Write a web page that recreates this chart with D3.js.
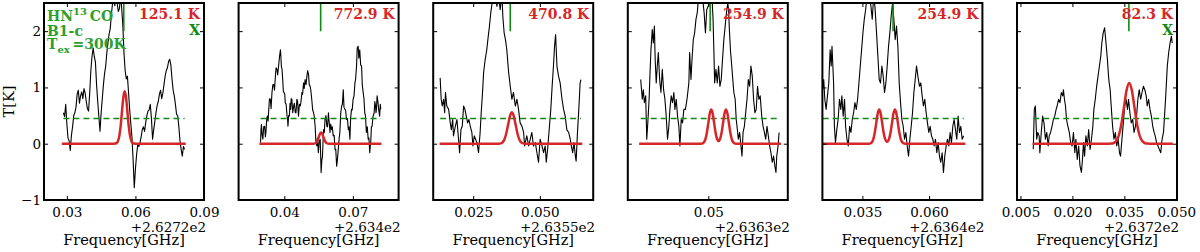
<!DOCTYPE html>
<html><head><meta charset="utf-8">
<script src="https://cdn.jsdelivr.net/npm/d3@7"></script>
<style>body{margin:0;background:#fff}svg{display:block}</style>
</head><body><svg id="c" width="1200" height="252"></svg>
<script>
// ---------------- data ----------------
const offsetLabels = ["+2.6272e2","+2.634e2","+2.6355e2","+2.6363e2","+2.6364e2","+2.6372e2"];
const xDomains = [[0.02,0.09],[0.02,0.09],[0.01,0.07],[0.0194,0.0802],[0.02,0.08],[0.004,0.0502]];
const xTicks = [[0.03,0.06,0.09],[0.04,0.07],[0.025,0.05],[0.05],[0.035,0.06],[0.005,0.02,0.035,0.05]];
const xTickLabels = [["0.03","0.06","0.09"],["0.04","0.07"],["0.025","0.050"],["0.05"],["0.035","0.060"],["0.005","0.020","0.035","0.050"]];
const yDomain = [-1,2.5];
const yTicks = [-1,0,1,2];
const yTickLabels = ["\u22121","0","1","2"];
const tempLabels = ["125.1 K","772.9 K","470.8 K","254.9 K","254.9 K","82.3 K"];
const flagLabels = ["X","","","","","X"];
const markerFreq = [0.0549,0.0559,0.0389,0.0507,0.0465,0.0363];
const markerRange = [2.0,2.5];
const threshold = 0.45;

const spec1 = [[0.0285,0.55],[0.0290,0.48],[0.0295,0.70],[0.0300,0.35],[0.0305,0.10],[0.0310,0.05],[0.0315,-0.12],[0.0320,0.15],[0.0325,0.30],[0.0330,0.50],[0.0335,0.55],[0.0340,0.65],[0.0345,0.88],[0.0350,0.95],[0.0355,0.72],[0.0360,0.85],[0.0365,0.92],[0.0370,0.80],[0.0375,0.98],[0.0380,0.90],[0.0385,0.75],[0.0390,0.62],[0.0395,0.58],[0.0400,0.90],[0.0405,1.30],[0.0410,1.55],[0.0415,1.70],[0.0420,1.55],[0.0425,1.45],[0.0430,1.05],[0.0435,0.75],[0.0440,0.48],[0.0445,0.22],[0.0450,0.55],[0.0455,0.80],[0.0460,1.05],[0.0465,1.25],[0.0470,1.38],[0.0475,1.62],[0.0480,1.80],[0.0485,1.95],[0.0490,2.05],[0.0495,2.30],[0.0500,2.50],[0.0505,2.60],[0.0510,2.45],[0.0515,2.70],[0.0520,2.50],[0.0525,2.35],[0.0530,2.40],[0.0535,2.65],[0.0540,2.40],[0.0545,2.10],[0.0550,1.60],[0.0555,1.30],[0.0560,1.15],[0.0565,1.20],[0.0570,0.90],[0.0575,0.60],[0.0580,0.35],[0.0585,0.10],[0.0590,-0.30],[0.0595,-0.78],[0.0600,-0.45],[0.0605,-0.20],[0.0610,-0.02],[0.0615,-0.05],[0.0620,0.02],[0.0625,0.12],[0.0630,0.25],[0.0635,0.30],[0.0640,0.22],[0.0645,0.38],[0.0650,0.50],[0.0655,0.58],[0.0660,0.60],[0.0665,0.70],[0.0670,0.45],[0.0675,0.08],[0.0680,0.25],[0.0685,0.40],[0.0690,0.55],[0.0695,0.68],[0.0700,0.75],[0.0705,0.88],[0.0710,0.95],[0.0715,0.80],[0.0720,0.90],[0.0725,1.05],[0.0730,1.20],[0.0735,1.30],[0.0740,1.35],[0.0745,1.46],[0.0750,1.50],[0.0755,1.40],[0.0760,1.15],[0.0765,0.95],[0.0770,0.85],[0.0775,0.70],[0.0780,0.52],[0.0785,0.50],[0.0790,0.30],[0.0795,0.05],[0.0800,-0.10],[0.0805,-0.22],[0.0810,-0.05],[0.0815,-0.10]];

const spec2 = [[0.0296,0.02],[0.0298,0.25],[0.0300,0.34],[0.0303,0.15],[0.0306,0.08],[0.0310,0.30],[0.0314,0.31],[0.0317,0.12],[0.0320,0.22],[0.0323,0.45],[0.0326,0.49],[0.0329,0.40],[0.0332,0.61],[0.0335,0.80],[0.0339,0.79],[0.0342,0.62],[0.0346,0.91],[0.0350,1.05],[0.0354,1.05],[0.0357,0.95],[0.0361,1.20],[0.0364,1.35],[0.0368,1.32],[0.0371,1.22],[0.0375,1.38],[0.0379,1.55],[0.0383,1.67],[0.0385,1.55],[0.0387,1.38],[0.0390,1.32],[0.0393,1.14],[0.0396,0.92],[0.0399,0.91],[0.0402,0.88],[0.0404,0.73],[0.0408,0.70],[0.0412,0.49],[0.0414,0.45],[0.0416,0.31],[0.0419,0.50],[0.0422,0.49],[0.0425,0.72],[0.0428,0.61],[0.0430,0.80],[0.0433,0.79],[0.0437,0.55],[0.0441,0.67],[0.0444,0.72],[0.0448,0.55],[0.0451,0.55],[0.0455,0.79],[0.0458,0.75],[0.0462,0.49],[0.0466,0.70],[0.0470,0.67],[0.0473,0.75],[0.0477,0.91],[0.0480,0.88],[0.0484,1.08],[0.0487,0.98],[0.0491,1.14],[0.0495,1.05],[0.0499,1.20],[0.0502,1.30],[0.0506,1.23],[0.0509,1.05],[0.0513,1.02],[0.0516,0.95],[0.0520,0.79],[0.0524,0.60],[0.0528,0.55],[0.0531,0.48],[0.0535,0.31],[0.0538,0.05],[0.0542,-0.04],[0.0545,0.10],[0.0549,-0.16],[0.0553,0.05],[0.0557,0.08],[0.0559,-0.20],[0.0561,-0.51],[0.0564,-0.30],[0.0567,-0.22],[0.0570,0.10],[0.0572,0.25],[0.0575,0.20],[0.0578,0.43],[0.0582,0.50],[0.0586,0.31],[0.0589,0.30],[0.0593,0.55],[0.0596,0.40],[0.0600,0.20],[0.0603,0.35],[0.0607,0.25],[0.0610,0.30],[0.0614,0.14],[0.0618,0.15],[0.0622,-0.10],[0.0625,-0.10],[0.0629,-0.40],[0.0632,-0.30],[0.0636,-0.10],[0.0640,0.10],[0.0643,0.20],[0.0647,0.55],[0.0651,0.67],[0.0654,0.70],[0.0658,0.96],[0.0661,0.65],[0.0665,0.61],[0.0668,0.60],[0.0672,0.43],[0.0676,0.45],[0.0680,0.25],[0.0683,0.30],[0.0687,0.08],[0.0690,0.45],[0.0694,0.61],[0.0697,0.60],[0.0701,0.79],[0.0705,0.85],[0.0709,1.08],[0.0712,1.15],[0.0716,1.38],[0.0719,1.70],[0.0723,1.73],[0.0726,1.52],[0.0730,1.67],[0.0734,1.40],[0.0738,1.38],[0.0741,1.05],[0.0745,0.91],[0.0748,0.82],[0.0752,0.55],[0.0755,0.50],[0.0759,0.20],[0.0763,0.30],[0.0767,0.08],[0.0770,0.10],[0.0774,-0.16],[0.0776,-0.05],[0.0778,0.02],[0.0781,0.30],[0.0784,0.31],[0.0788,0.48],[0.0793,0.55],[0.0796,0.75],[0.0799,0.67],[0.0801,0.55],[0.0803,0.61],[0.0806,0.85],[0.0810,0.73],[0.0813,0.60],[0.0817,0.49],[0.0820,0.70],[0.0822,0.61]];

const spec3 = [[0.0126,1.17],[0.0130,0.79],[0.0134,0.67],[0.0139,0.79],[0.0143,0.55],[0.0146,0.91],[0.0151,0.67],[0.0158,0.61],[0.0164,0.37],[0.0168,0.25],[0.0173,0.43],[0.0176,0.14],[0.0183,0.31],[0.0189,0.43],[0.0195,0.08],[0.0199,-0.16],[0.0204,0.25],[0.0209,0.31],[0.0214,0.67],[0.0219,0.61],[0.0224,0.49],[0.0229,0.37],[0.0234,0.43],[0.0239,0.31],[0.0245,0.20],[0.0249,-0.04],[0.0254,0.14],[0.0259,0.08],[0.0264,0.02],[0.0270,-0.16],[0.0276,0.20],[0.0280,0.55],[0.0285,0.91],[0.0289,1.26],[0.0295,1.50],[0.0301,1.67],[0.0305,1.85],[0.0311,2.09],[0.0316,2.33],[0.0321,2.50],[0.0326,2.60],[0.0333,2.65],[0.0339,2.44],[0.0345,2.65],[0.0351,2.38],[0.0358,2.65],[0.0361,2.27],[0.0366,1.97],[0.0371,1.85],[0.0376,1.67],[0.0383,1.26],[0.0389,1.02],[0.0395,0.79],[0.0401,0.91],[0.0408,0.67],[0.0414,0.79],[0.0420,0.61],[0.0426,0.37],[0.0433,0.31],[0.0439,0.20],[0.0443,-0.04],[0.0448,0.08],[0.0451,0.14],[0.0458,-0.04],[0.0464,0.08],[0.0470,0.20],[0.0476,-0.04],[0.0483,0.02],[0.0489,-0.16],[0.0495,-0.33],[0.0501,0.08],[0.0508,-0.04],[0.0514,-0.16],[0.0520,-0.04],[0.0524,-0.33],[0.0529,-0.10],[0.0536,0.31],[0.0541,0.61],[0.0546,1.02],[0.0551,1.38],[0.0555,1.73],[0.0559,1.94],[0.0564,1.38],[0.0570,1.20],[0.0576,1.08],[0.0583,0.79],[0.0589,0.61],[0.0595,0.49],[0.0601,0.25],[0.0608,0.20],[0.0614,0.08],[0.0618,-0.04],[0.0623,-0.16],[0.0628,0.02],[0.0633,-0.22],[0.0636,-0.31],[0.0641,0.20],[0.0646,0.61],[0.0651,1.08],[0.0654,1.14]];

const spec4 = [[0.0243,1.14],[0.0247,0.91],[0.0249,0.79],[0.0253,0.96],[0.0257,0.73],[0.0262,0.85],[0.0266,0.08],[0.0270,0.37],[0.0275,0.79],[0.0278,1.20],[0.0282,1.67],[0.0287,2.03],[0.0291,1.79],[0.0295,2.09],[0.0298,1.50],[0.0302,1.08],[0.0306,1.38],[0.0310,1.62],[0.0315,1.14],[0.0320,0.91],[0.0325,1.32],[0.0330,0.96],[0.0335,0.79],[0.0340,0.49],[0.0345,0.08],[0.0350,0.31],[0.0354,0.61],[0.0359,0.85],[0.0364,0.73],[0.0369,0.91],[0.0373,0.61],[0.0378,0.79],[0.0383,0.49],[0.0388,0.31],[0.0392,-0.04],[0.0397,0.43],[0.0402,0.37],[0.0407,0.61],[0.0413,0.61],[0.0419,0.79],[0.0426,1.08],[0.0429,1.62],[0.0434,1.14],[0.0438,1.50],[0.0443,1.85],[0.0448,1.97],[0.0453,2.21],[0.0458,2.33],[0.0463,2.60],[0.0468,2.65],[0.0473,2.50],[0.0478,2.60],[0.0484,2.33],[0.0489,1.97],[0.0494,2.38],[0.0499,2.44],[0.0504,2.50],[0.0509,2.60],[0.0514,2.60],[0.0518,2.21],[0.0521,1.67],[0.0524,1.08],[0.0529,1.32],[0.0534,1.08],[0.0539,1.38],[0.0544,1.02],[0.0549,1.14],[0.0554,1.50],[0.0559,1.85],[0.0564,2.09],[0.0569,2.33],[0.0574,2.50],[0.0577,2.38],[0.0580,2.03],[0.0584,1.67],[0.0589,1.38],[0.0593,1.14],[0.0597,0.91],[0.0602,0.79],[0.0606,0.43],[0.0609,0.31],[0.0614,0.08],[0.0619,0.20],[0.0624,-0.04],[0.0628,-0.22],[0.0632,0.20],[0.0637,0.31],[0.0642,0.55],[0.0647,0.79],[0.0652,1.14],[0.0657,1.02],[0.0662,1.38],[0.0667,1.20],[0.0672,0.79],[0.0677,0.55],[0.0682,0.61],[0.0687,1.02],[0.0692,0.79],[0.0697,0.85],[0.0703,0.49],[0.0708,0.31],[0.0713,0.20],[0.0718,0.08],[0.0723,0.31],[0.0728,0.14],[0.0733,-0.04],[0.0738,-0.16],[0.0743,-0.33],[0.0748,-0.22],[0.0753,-0.40],[0.0757,-0.51],[0.0760,-0.22],[0.0765,-0.04],[0.0769,0.20]];

const spec5 = [[0.0201,0.96],[0.0205,1.14],[0.0209,0.79],[0.0214,0.61],[0.0219,0.85],[0.0224,1.08],[0.0229,1.67],[0.0233,1.38],[0.0236,1.73],[0.0242,1.08],[0.0245,0.31],[0.0249,0.02],[0.0254,0.25],[0.0259,0.43],[0.0264,0.79],[0.0269,0.61],[0.0273,0.85],[0.0278,0.49],[0.0283,0.79],[0.0287,0.31],[0.0292,0.08],[0.0297,-0.04],[0.0302,0.31],[0.0307,0.20],[0.0312,0.43],[0.0317,0.55],[0.0322,0.73],[0.0327,0.61],[0.0332,0.79],[0.0337,1.08],[0.0342,1.38],[0.0347,1.67],[0.0352,1.97],[0.0357,2.21],[0.0362,2.38],[0.0367,2.60],[0.0372,2.50],[0.0377,2.60],[0.0382,2.44],[0.0387,2.21],[0.0392,2.60],[0.0397,2.44],[0.0403,1.97],[0.0408,1.56],[0.0413,1.14],[0.0418,1.08],[0.0423,1.38],[0.0428,1.20],[0.0433,0.91],[0.0438,1.08],[0.0443,1.38],[0.0448,1.73],[0.0453,1.97],[0.0458,2.27],[0.0463,2.50],[0.0468,2.21],[0.0473,1.85],[0.0478,2.09],[0.0483,1.73],[0.0488,1.08],[0.0493,0.73],[0.0498,0.43],[0.0503,0.31],[0.0508,0.08],[0.0513,0.20],[0.0518,-0.04],[0.0523,-0.22],[0.0528,0.08],[0.0533,0.31],[0.0538,0.55],[0.0543,0.91],[0.0548,1.14],[0.0553,1.38],[0.0558,1.20],[0.0564,1.02],[0.0569,1.08],[0.0574,0.85],[0.0579,0.67],[0.0584,0.79],[0.0589,0.55],[0.0594,0.37],[0.0599,0.20],[0.0604,0.31],[0.0609,0.14],[0.0614,0.08],[0.0619,-0.04],[0.0624,0.08],[0.0629,-0.16],[0.0634,0.02],[0.0639,-0.22],[0.0644,-0.33],[0.0649,-0.16],[0.0654,-0.51],[0.0659,-0.22],[0.0664,-0.04],[0.0669,0.08],[0.0674,-0.04],[0.0679,0.20],[0.0684,0.02],[0.0689,0.31],[0.0694,0.43],[0.0699,0.25],[0.0704,0.08],[0.0709,0.49],[0.0714,0.20],[0.0719,0.31],[0.0724,0.08],[0.0730,0.14]];

const spec6 = [[0.0087,-0.10],[0.0090,0.61],[0.0093,0.67],[0.0097,0.08],[0.0100,0.20],[0.0104,0.14],[0.0106,-0.16],[0.0110,0.20],[0.0114,0.49],[0.0118,0.37],[0.0122,0.08],[0.0126,0.20],[0.0130,-0.04],[0.0133,0.14],[0.0137,0.20],[0.0141,0.31],[0.0145,0.43],[0.0149,0.49],[0.0153,0.61],[0.0156,0.67],[0.0160,0.79],[0.0164,0.73],[0.0168,0.91],[0.0172,0.85],[0.0174,0.96],[0.0177,0.79],[0.0180,0.67],[0.0183,0.43],[0.0187,0.31],[0.0191,0.20],[0.0195,0.02],[0.0199,-0.04],[0.0203,0.20],[0.0207,-0.16],[0.0210,0.08],[0.0214,-0.28],[0.0218,-0.04],[0.0222,-0.40],[0.0226,-0.51],[0.0229,-0.28],[0.0232,0.02],[0.0235,-0.22],[0.0239,0.14],[0.0243,-0.04],[0.0247,0.25],[0.0251,-0.10],[0.0255,0.08],[0.0259,0.31],[0.0262,0.61],[0.0266,0.79],[0.0270,1.02],[0.0274,1.20],[0.0278,1.38],[0.0282,1.56],[0.0285,1.79],[0.0289,1.97],[0.0293,2.06],[0.0297,1.79],[0.0301,1.50],[0.0305,1.14],[0.0309,0.96],[0.0312,0.67],[0.0316,0.31],[0.0320,0.08],[0.0324,0.20],[0.0328,-0.04],[0.0332,0.08],[0.0336,-0.16],[0.0339,-0.22],[0.0343,0.08],[0.0347,0.37],[0.0351,0.67],[0.0355,0.79],[0.0359,0.61],[0.0362,0.79],[0.0366,0.55],[0.0370,0.37],[0.0374,0.43],[0.0378,0.20],[0.0382,0.31],[0.0386,0.55],[0.0389,0.79],[0.0393,0.96],[0.0397,0.79],[0.0401,0.91],[0.0405,1.02],[0.0409,0.96],[0.0413,0.85],[0.0416,0.67],[0.0420,0.79],[0.0424,0.61],[0.0428,0.49],[0.0432,0.31],[0.0436,0.20],[0.0439,0.14],[0.0443,0.02],[0.0447,-0.04],[0.0451,-0.10],[0.0455,-0.16],[0.0459,0.08],[0.0463,0.20],[0.0466,0.49],[0.0470,0.91],[0.0474,1.38],[0.0478,1.62],[0.0482,1.79],[0.0486,1.91],[0.0488,1.79]];

const fit1 = [[0.0278,0],[0.0505,0],[0.0511,0.002],[0.0517,0.010],[0.0523,0.041],[0.0529,0.126],[0.0535,0.302],[0.0541,0.564],[0.0547,0.821],[0.0553,0.93],[0.0559,0.821],[0.0565,0.564],[0.0571,0.302],[0.0577,0.126],[0.0583,0.041],[0.0589,0.010],[0.0595,0.002],[0.0601,0],[0.0820,0]];
const fit2 = [[0.0291,0],[0.0526,0],[0.0531,0.002],[0.0536,0.009],[0.0541,0.027],[0.0546,0.065],[0.0551,0.121],[0.0556,0.177],[0.0561,0.2],[0.0566,0.177],[0.0571,0.121],[0.0576,0.065],[0.0581,0.027],[0.0586,0.009],[0.0591,0.002],[0.0596,0],[0.0825,0]];
const fit3 = [[0.0124,0],[0.0339,0],[0.0346,0.001],[0.0353,0.006],[0.0360,0.025],[0.0367,0.076],[0.0374,0.182],[0.0381,0.34],[0.0388,0.494],[0.0395,0.56],[0.0402,0.494],[0.0409,0.34],[0.0416,0.182],[0.0423,0.076],[0.0430,0.025],[0.0437,0.006],[0.0444,0.001],[0.0451,0],[0.0659,0]];
const fit4 = [[0.0237,0],[0.0467,0],[0.04725,0.001],[0.0478,0.007],[0.04835,0.027],[0.0489,0.083],[0.04945,0.198],[0.0500,0.37],[0.05055,0.538],[0.0511,0.61],[0.05165,0.538],[0.0522,0.37],[0.05275,0.199],[0.0533,0.088],[0.0539,0.048],[0.0545,0.088],[0.05505,0.199],[0.0556,0.37],[0.05615,0.538],[0.0567,0.61],[0.05725,0.538],[0.0578,0.37],[0.05835,0.198],[0.0589,0.083],[0.05945,0.027],[0.0600,0.007],[0.06055,0.001],[0.0611,0],[0.0776,0]];
const fit5 = [[0.0200,0],[0.0369,0],[0.03745,0.001],[0.0380,0.007],[0.03855,0.027],[0.0391,0.083],[0.03965,0.198],[0.0402,0.37],[0.04075,0.538],[0.0413,0.61],[0.04185,0.538],[0.0424,0.37],[0.04295,0.198],[0.0435,0.085],[0.04425,0.034],[0.0450,0.085],[0.04555,0.198],[0.0461,0.37],[0.04665,0.538],[0.0472,0.61],[0.04775,0.538],[0.0483,0.37],[0.04885,0.198],[0.0494,0.083],[0.04995,0.027],[0.0505,0.007],[0.05105,0.001],[0.0516,0],[0.0736,0]];
const fit6 = [[0.0085,0],[0.03055,0],[0.03115,0.002],[0.0319,0.012],[0.03265,0.047],[0.0334,0.146],[0.03415,0.351],[0.0349,0.655],[0.03565,0.953],[0.0364,1.08],[0.03715,0.953],[0.0379,0.655],[0.03865,0.351],[0.0394,0.146],[0.04015,0.047],[0.0409,0.012],[0.04165,0.002],[0.0424,0],[0.0490,0]];

const spectra = [spec1,spec2,spec3,spec4,spec5,spec6];
const fits = [fit1,fit2,fit3,fit4,fit5,fit6];

// ---------------- drawing ----------------
const FONT = "DejaVu Serif";
const RED = "#d62728", GREEN = "#108a10", LGREEN = "#2ca02c";
const svg = d3.select("#c");
const yTop = 3, yBot = 200, pw = 160;
const y = d3.scaleLinear().domain(yDomain).range([yBot, yTop]);
const defs = svg.append("defs");

spectra.forEach((spec, i) => {
  const L = 44 + i * 194.6, R = L + pw;
  const x = d3.scaleLinear().domain(xDomains[i]).range([L, R]);
  const g = svg.append("g");
  defs.append("clipPath").attr("id", "clip" + i)
    .append("rect").attr("x", L).attr("y", yTop).attr("width", pw).attr("height", yBot - yTop);
  const plot = g.append("g").attr("clip-path", `url(#clip${i})`);
  const line = d3.line().x(d => x(d[0])).y(d => y(d[1]));

  plot.append("path").attr("d", line(spec)).attr("fill", "none")
    .attr("stroke", "#000").attr("stroke-width", 1.1).attr("stroke-linejoin", "round");

  const ext = d3.extent(spec, d => d[0]);
  plot.append("path").attr("d", line([[ext[0], threshold], [ext[1], threshold]]))
    .attr("fill", "none").attr("stroke", GREEN).attr("stroke-width", 1.5).attr("stroke-dasharray", "6,4");

  const fitLine = d3.line().curve(d3.curveMonotoneX).x(d => x(d[0])).y(d => y(d[1]));
  plot.append("path").attr("d", fitLine(fits[i])).attr("fill", "none")
    .attr("stroke", RED).attr("stroke-width", 2.5);

  plot.append("line").attr("x1", x(markerFreq[i])).attr("x2", x(markerFreq[i]))
    .attr("y1", y(markerRange[1])).attr("y2", y(markerRange[0]))
    .attr("stroke", GREEN).attr("stroke-width", 1.6);

  const ax = [];
  ax.push(g.append("g").attr("transform", `translate(0,${yBot})`)
    .call(d3.axisBottom(x).tickValues(xTicks[i]).tickFormat((d, j) => xTickLabels[i][j]).tickSize(-4).tickPadding(7)));
  ax.push(g.append("g").attr("transform", `translate(0,${yTop})`)
    .call(d3.axisTop(x).tickValues(xTicks[i]).tickFormat("").tickSize(-4)));
  ax.push(g.append("g").attr("transform", `translate(${L},0)`)
    .call(d3.axisLeft(y).tickValues(yTicks).tickFormat((d, j) => i === 0 ? yTickLabels[j] : "").tickSize(-4).tickPadding(3)));
  ax.push(g.append("g").attr("transform", `translate(${R},0)`)
    .call(d3.axisRight(y).tickValues(yTicks).tickFormat("").tickSize(-4)));
  ax.forEach(a => {
    a.select(".domain").remove();
    a.attr("font-family", FONT).attr("font-size", 13.5);
    a.selectAll("text").attr("fill", "#000");
  });

  g.append("rect").attr("x", L).attr("y", yTop).attr("width", pw).attr("height", yBot - yTop)
    .attr("fill", "none").attr("stroke", "#000").attr("stroke-width", 2);

  g.append("text").attr("x", R + 2).attr("y", 232).attr("text-anchor", "end")
    .attr("font-family", FONT).attr("font-size", 13.5).text(offsetLabels[i]);
  g.append("text").attr("x", (L + R) / 2).attr("y", 245).attr("text-anchor", "middle")
    .attr("font-family", FONT).attr("font-size", 14.5).text("Frequency[GHz]");

  g.append("text").attr("x", R - 4).attr("y", 19).attr("text-anchor", "end")
    .attr("font-family", FONT).attr("font-weight", "bold").attr("font-size", 14)
    .attr("fill", RED).text(tempLabels[i]);
  if (flagLabels[i]) {
    g.append("text").attr("x", R - 4).attr("y", 34.5).attr("text-anchor", "end")
      .attr("font-family", FONT).attr("font-weight", "bold").attr("font-size", 14)
      .attr("fill", GREEN).text(flagLabels[i]);
  }

  if (i === 0) {
    g.append("text").attr("transform", `translate(14,${(yTop + yBot) / 2}) rotate(-90)`)
      .attr("text-anchor", "middle").attr("font-family", FONT).attr("font-size", 14.5).text("T[K]");
    const lab = g.append("g").attr("font-family", FONT).attr("font-weight", "bold")
      .attr("font-size", 14).attr("fill", LGREEN);
    const t1 = lab.append("text").attr("x", L + 3).attr("y", 20.5);
    t1.append("tspan").text("HN");
    t1.append("tspan").attr("dy", -6).attr("font-size", 10).text("13");
    t1.append("tspan").attr("dy", 6).text("\u2009CO");
    lab.append("text").attr("x", L + 3).attr("y", 36).text("B1-c");
    const t3 = lab.append("text").attr("x", L + 3).attr("y", 49);
    t3.append("tspan").text("T");
    t3.append("tspan").attr("dy", 4).attr("font-size", 10).text("ex");
    t3.append("tspan").attr("dy", -4).text("\u2009=300K");
  }
});
</script>
</body></html>
